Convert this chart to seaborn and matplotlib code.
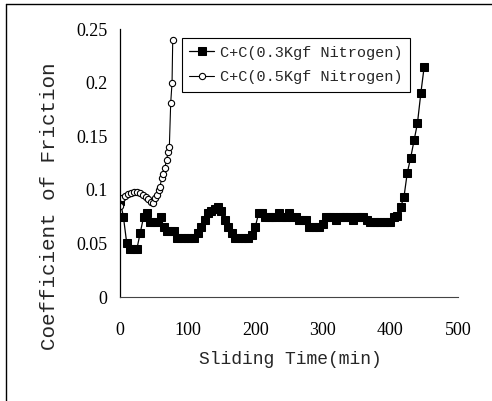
import matplotlib
matplotlib.use("Agg")
import matplotlib.pyplot as plt
import seaborn as sns
import pandas as pd
from matplotlib.lines import Line2D

# Valores
tempo_03 = [0, 5, 10, 15, 20, 25, 30, 35, 40, 45, 50, 55, 60, 65, 70, 75, 80, 85, 90, 95,
            100, 105, 110, 115, 120, 125, 130, 135, 140, 145, 150, 155, 160, 165, 170, 175,
            180, 185, 190, 195, 200, 205, 210, 215, 220, 225, 230, 235, 240, 245, 250, 255,
            260, 265, 270, 275, 280, 285, 290, 295, 300, 305, 310, 315, 320, 325, 330, 335,
            340, 345, 350, 355, 360, 365, 370, 375, 380, 385, 390, 395, 400, 405, 410, 415,
            420, 425, 430, 435, 440, 445, 450]
atrito_03 = [0.09, 0.075, 0.05, 0.045, 0.045, 0.045, 0.06, 0.075, 0.078, 0.07, 0.07, 0.07,
             0.075, 0.065, 0.062, 0.062, 0.062, 0.055, 0.055, 0.055, 0.055, 0.055, 0.055,
             0.06, 0.065, 0.072, 0.078, 0.08, 0.082, 0.084, 0.08, 0.072, 0.065, 0.06, 0.055,
             0.055, 0.055, 0.055, 0.055, 0.058, 0.065, 0.078, 0.078, 0.075, 0.075, 0.075,
             0.075, 0.078, 0.075, 0.075, 0.078, 0.075, 0.075, 0.072, 0.072, 0.072, 0.065,
             0.065, 0.065, 0.065, 0.068, 0.075, 0.075, 0.075, 0.072, 0.075, 0.075, 0.075,
             0.075, 0.072, 0.075, 0.075, 0.075, 0.072, 0.07, 0.07, 0.07, 0.07, 0.07, 0.07,
             0.07, 0.075, 0.076, 0.084, 0.093, 0.116, 0.13, 0.146, 0.162, 0.19, 0.215]

tempo_05 = [0, 3, 8, 12, 16, 20, 25, 30, 34, 38, 42, 46, 49, 52, 54, 57, 59, 62, 64, 66,
            69, 71, 73, 75, 77, 78]
atrito_05 = [0.085, 0.092, 0.094, 0.096, 0.097, 0.098, 0.098, 0.097, 0.095, 0.093, 0.091,
             0.089, 0.088, 0.092, 0.095, 0.1, 0.103, 0.111, 0.115, 0.12, 0.128, 0.135,
             0.14, 0.181, 0.2, 0.24]

rotulo_03 = 'C+C(0.3Kgf Nitrogen)'
rotulo_05 = 'C+C(0.5Kgf Nitrogen)'
x_ticks = [0, 100, 200, 300, 400, 500]
y_ticks = [0, 0.05, 0.1, 0.15, 0.2, 0.25]
y_tick_labels = ['0', '0.05', '0.1', '0.15', '0.2', '0.25']

df_03 = pd.DataFrame({'tempo': tempo_03, 'atrito': atrito_03})
df_05 = pd.DataFrame({'tempo': tempo_05, 'atrito': atrito_05})

sns.set_style('white')
plt.rcParams['font.family'] = ['Liberation Serif', 'DejaVu Serif']
mono = ['Liberation Mono', 'DejaVu Sans Mono']

fig = plt.figure(figsize=(4.92, 4.01), dpi=100)
ax = fig.add_axes([120 / 492, 1 - 297 / 401, 338 / 492, 268 / 401])

sns.lineplot(data=df_03, x='tempo', y='atrito', ax=ax, color='black', lw=0.9,
             marker='s', markersize=5.5, markeredgecolor='black', markerfacecolor='black',
             label=rotulo_03)
sns.lineplot(data=df_05, x='tempo', y='atrito', ax=ax, color='black', lw=0.8,
             marker='o', markersize=4.5, markeredgecolor='black', markerfacecolor='white',
             markeredgewidth=0.8, label=rotulo_05)

ax.set_xlim(0, 500)
ax.set_ylim(0, 0.25)
ax.set_xticks(x_ticks)
ax.set_xticklabels([str(v) for v in x_ticks])
ax.set_yticks(y_ticks)
ax.set_yticklabels(y_tick_labels)
ax.tick_params(direction='in', length=4, width=0.8, colors='black', labelsize=13)
ax.tick_params(axis='x', pad=18)
ax.tick_params(axis='y', pad=9)
ax.set_xlabel('')
ax.set_ylabel('')
for lado in ['top', 'right']:
    ax.spines[lado].set_visible(False)
ax.spines['left'].set_color('black')
ax.spines['left'].set_linewidth(0.9)
ax.spines['bottom'].set_color('#444444')
ax.spines['bottom'].set_linewidth(0.8)

leg = ax.legend(loc='upper left', bbox_to_anchor=(0.183, 0.966), borderaxespad=0,
                fancybox=False, framealpha=1, edgecolor='black', handlelength=1.6,
                handletextpad=0.4, labelspacing=0.7, borderpad=0.5,
                prop={'family': mono, 'size': 11})
leg.get_frame().set_linewidth(0.8)

fig.text(50 / 492, 1 - 206 / 401, 'Coefficient of Friction', rotation=90,
         ha='center', va='center', family=mono, size=15)
fig.text(290 / 492, 1 - 360 / 401, 'Sliding Time(min)', ha='center', va='center',
         family=mono, size=13)

# Moldura parcial da figura digitalizada
fig.add_artist(Line2D([6 / 492, 6 / 492], [0, 1 - 4 / 401], color='black', lw=1))
fig.add_artist(Line2D([6 / 492, 1], [1 - 4 / 401, 1 - 4 / 401], color='black', lw=1))

fig.savefig('out.png', dpi=100)
